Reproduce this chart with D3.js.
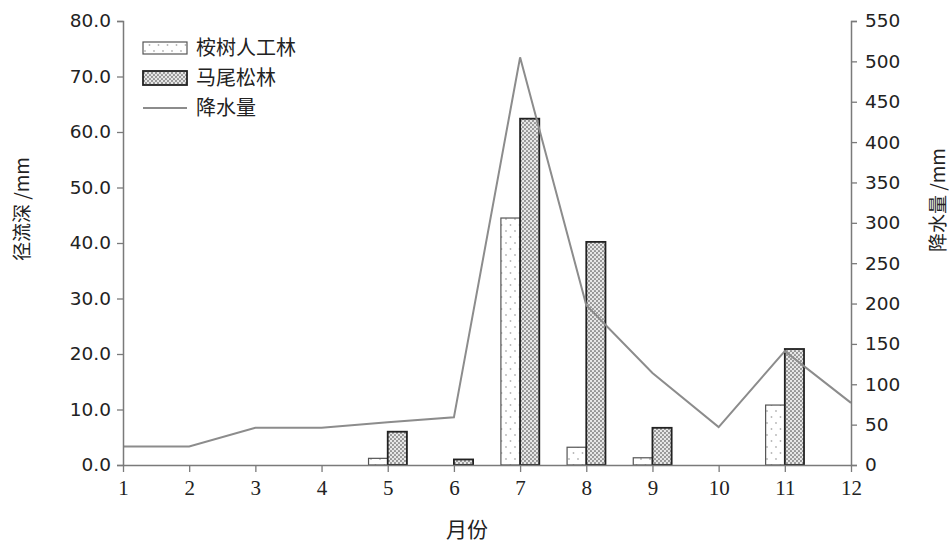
<!DOCTYPE html>
<html>
<head>
<meta charset="utf-8">
<script src="https://cdn.jsdelivr.net/npm/d3@7"></script>
<style>
  html, body { margin: 0; padding: 0; background: #fff; }
  svg { display: block; }
</style>
</head>
<body>
<svg id="chart" width="951" height="545"></svg>
<script>
// Monthly runoff depth of two plantations and monthly precipitation
const months = [1, 2, 3, 4, 5, 6, 7, 8, 9, 10, 11, 12];
const eucalyptusRunoff = [0, 0, 0, 0, 1.2, 0, 44.5, 3.2, 1.3, 0, 10.8, 0];
const pineRunoff = [0, 0, 0, 0, 6.0, 1.0, 62.4, 40.2, 6.7, 0, 20.9, 0];
const precipitation = [23, 23, 46, 46, 53, 59, 505, 198, 114, 47, 141, 77];
const leftTicks = [0, 10, 20, 30, 40, 50, 60, 70, 80];
const rightTicks = [0, 50, 100, 150, 200, 250, 300, 350, 400, 450, 500, 550];
const seriesNames = ["桉树人工林", "马尾松林", "降水量"];

const svg = d3.select("#chart");
const axisColor = "#7a7a7a";
const textColor = "#222";
const cjk = "'Noto Sans CJK SC', 'Noto Sans', sans-serif";

const x = d3.scaleLinear().domain([1, 12]).range([123, 851]);
const yL = d3.scaleLinear().domain([0, 80]).range([465, 21]);
const yR = d3.scaleLinear().domain([0, 550]).range([465, 21]);
const barW = (x(2) - x(1)) * 0.29;

// Fill patterns
const defs = svg.append("defs");
const pDots = defs.append("pattern").attr("id", "dots")
  .attr("patternUnits", "userSpaceOnUse").attr("width", 9).attr("height", 12);
pDots.append("rect").attr("width", 9).attr("height", 12).attr("fill", "#fff");
pDots.append("circle").attr("cx", 2).attr("cy", 3).attr("r", 0.9).attr("fill", "#b5b5b5");
pDots.append("circle").attr("cx", 6.5).attr("cy", 9).attr("r", 0.9).attr("fill", "#b5b5b5");

const pHatch = defs.append("pattern").attr("id", "hatch")
  .attr("patternUnits", "userSpaceOnUse").attr("width", 4).attr("height", 4);
pHatch.append("rect").attr("width", 4).attr("height", 4).attr("fill", "#e8e8e8");
pHatch.append("circle").attr("cx", 1).attr("cy", 1).attr("r", 1.1).attr("fill", "#909090");
pHatch.append("circle").attr("cx", 3).attr("cy", 3).attr("r", 1.1).attr("fill", "#909090");

// Bars
const barsE = months.map((m, i) => ({ m, v: eucalyptusRunoff[i] })).filter(d => d.v > 0);
const barsP = months.map((m, i) => ({ m, v: pineRunoff[i] })).filter(d => d.v > 0);

svg.append("g").selectAll("rect").data(barsE).join("rect")
  .attr("x", d => x(d.m) - barW)
  .attr("y", d => yL(d.v))
  .attr("width", barW)
  .attr("height", d => yL(0) - yL(d.v))
  .attr("fill", "url(#dots)")
  .attr("stroke", "#555").attr("stroke-width", 1.2);

svg.append("g").selectAll("rect").data(barsP).join("rect")
  .attr("x", d => x(d.m))
  .attr("y", d => yL(d.v))
  .attr("width", barW)
  .attr("height", d => yL(0) - yL(d.v))
  .attr("fill", "url(#hatch)")
  .attr("stroke", "#222").attr("stroke-width", 1.8);

// Precipitation line
const line = d3.line().x((d, i) => x(months[i])).y(d => yR(d));
svg.append("path").datum(precipitation)
  .attr("d", line)
  .attr("fill", "none")
  .attr("stroke", "#8c8c8c")
  .attr("stroke-width", 2);

// Axes
function styleAxis(g) {
  g.selectAll(".domain").attr("stroke", axisColor).attr("stroke-width", 1.5);
  g.selectAll(".tick line").attr("stroke", axisColor).attr("stroke-width", 1.3);
  g.selectAll(".tick text").attr("fill", textColor);
}

const gL = svg.append("g").attr("transform", `translate(${x(1)},0)`)
  .call(d3.axisLeft(yL).tickValues(leftTicks).tickFormat(d3.format(".1f"))
    .tickSizeInner(6).tickSizeOuter(6).tickPadding(6));
styleAxis(gL);
gL.selectAll(".tick text").attr("font-family", "'DejaVu Sans', sans-serif").attr("font-size", 18.5);

const gR = svg.append("g").attr("transform", `translate(${x(12)},0)`)
  .call(d3.axisRight(yR).tickValues(rightTicks).tickFormat(d3.format("d"))
    .tickSizeInner(6).tickSizeOuter(6).tickPadding(8));
styleAxis(gR);
gR.selectAll(".tick text").attr("font-family", "'DejaVu Sans', sans-serif").attr("font-size", 18.5);

const gB = svg.append("g").attr("transform", `translate(0,${yL(0)})`)
  .call(d3.axisBottom(x).tickValues(months).tickFormat(d3.format("d"))
    .tickSizeInner(7).tickSizeOuter(0).tickPadding(8));
styleAxis(gB);
gB.selectAll(".tick text").attr("font-family", "'Liberation Serif', serif").attr("font-size", 21);

// Axis titles
svg.append("text")
  .attr("transform", "translate(29,209) rotate(-90)")
  .attr("text-anchor", "middle")
  .attr("font-family", cjk).attr("font-size", 19).attr("fill", textColor)
  .text("径流深 /mm");

svg.append("text")
  .attr("transform", "translate(945,200) rotate(-90)")
  .attr("text-anchor", "middle")
  .attr("font-family", cjk).attr("font-size", 19).attr("fill", textColor)
  .text("降水量 /mm");

svg.append("text")
  .attr("x", 467).attr("y", 537)
  .attr("text-anchor", "middle")
  .attr("font-family", cjk).attr("font-size", 21).attr("fill", textColor)
  .text("月份");

// Legend
const legend = svg.append("g").attr("transform", "translate(143,0)");
const rowY = [48, 78, 108];
legend.append("rect").attr("x", 0).attr("y", rowY[0] - 6).attr("width", 44).attr("height", 12)
  .attr("fill", "url(#dots)").attr("stroke", "#555").attr("stroke-width", 1.2);
legend.append("rect").attr("x", 0).attr("y", rowY[1] - 7).attr("width", 44).attr("height", 14)
  .attr("fill", "url(#hatch)").attr("stroke", "#222").attr("stroke-width", 1.8);
legend.append("line").attr("x1", 0).attr("x2", 44).attr("y1", rowY[2]).attr("y2", rowY[2])
  .attr("stroke", "#8c8c8c").attr("stroke-width", 2);
legend.selectAll("text").data(seriesNames).join("text")
  .attr("x", 53).attr("y", (d, i) => rowY[i])
  .attr("dy", "0.36em")
  .attr("font-family", cjk).attr("font-size", 20).attr("fill", textColor)
  .text(d => d);
</script>
</body>
</html>
